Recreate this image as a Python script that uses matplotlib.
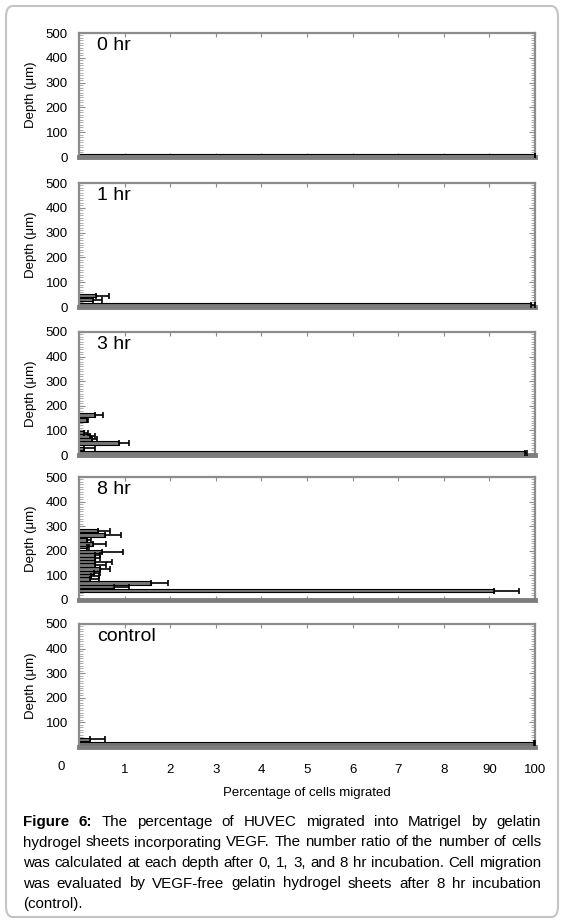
import matplotlib
matplotlib.use("Agg")
import matplotlib.pyplot as plt
import numpy as np
from matplotlib.patches import FancyBboxPatch
from matplotlib.ticker import MultipleLocator

plt.rcParams['font.family'] = ['Liberation Sans', 'DejaVu Sans']

# depth (um), percentage of cells, +error for each panel
panel_names = ["0 hr", "1 hr", "3 hr", "8 hr", "control"]

depth_0h = [5]
pct_0h = [100.0]
err_0h = [0.0]

depth_1h = [10, 30, 45]
pct_1h = [99.2, 0.30, 0.38]
err_1h = [0.7, 0.20, 0.28]

depth_3h = [10, 28, 49, 65, 77, 91, 142, 163]
pct_3h = [97.8, 0.10, 0.87, 0.29, 0.24, 0.10, 0.17, 0.36]
err_3h = [0.5, 0.25, 0.23, 0.11, 0.12, 0.10, 0.03, 0.17]

depth_8h = [37, 54, 69, 85, 98, 111, 126, 142, 156, 171, 183, 196, 217, 228, 244, 264, 282]
pct_8h = [91.0, 0.76, 1.58, 0.24, 0.26, 0.33, 0.47, 0.36, 0.36, 0.36, 0.36, 0.50, 0.18, 0.30, 0.17, 0.58, 0.42]
err_8h = [5.5, 0.34, 0.38, 0.20, 0.18, 0.14, 0.22, 0.24, 0.37, 0.10, 0.10, 0.47, 0.05, 0.30, 0.09, 0.35, 0.25]

depth_ctrl = [15, 32]
pct_ctrl = [99.7, 0.24]
err_ctrl = [0.3, 0.33]

x_ticks = [0, 1, 2, 3, 4, 5, 6, 7, 8, 90, 100]
x_tick_labels = ["", "1", "2", "3", "4", "5", "6", "7", "8", "90", "100"]

panels = [
    (depth_0h, pct_0h, err_0h),
    (depth_1h, pct_1h, err_1h),
    (depth_3h, pct_3h, err_3h),
    (depth_8h, pct_8h, err_8h),
    (depth_ctrl, pct_ctrl, err_ctrl),
]

caption_lines = [
    "Figure 6: The percentage of HUVEC migrated into Matrigel by gelatin",
    "hydrogel sheets incorporating VEGF. The number ratio of the number of cells",
    "was calculated at each depth after 0, 1, 3, and 8 hr incubation. Cell migration",
    "was evaluated by VEGF-free gelatin hydrogel sheets after 8 hr incubation",
    "(control).",
]


# broken x axis: 0-8 linear, then 8-90 and 90-100 each squeezed into one unit
def fwd(v):
    return np.interp(v, [0, 8, 90, 100], [0, 8, 9, 10])


def inv(u):
    return np.interp(u, [0, 8, 9, 10], [0, 8, 90, 100])


W, H = 564, 923
fig = plt.figure(figsize=(W / 100, H / 100), dpi=100)

# rounded frame around everything
frame = FancyBboxPatch((6 / W, 6 / H), 552 / W, 911 / H,
                       boxstyle="round,pad=0,rounding_size=0.012",
                       transform=fig.transFigure, fc="none", ec="#c4c4c4", lw=1.5,
                       zorder=-1)
fig.patches.append(frame)

# pixel extents of each panel (top, bottom)
panel_px = [(33, 157), (183, 307), (332, 455), (477, 600), (624, 747)]
left_px, right_px = 79, 535

frame_col = "#8c8c8c"
for i, ((top, bot), (dep, pct, err)) in enumerate(zip(panel_px, panels)):
    ax = fig.add_axes([left_px / W, 1 - bot / H, (right_px - left_px) / W, (bot - top) / H])
    ax.set_xscale('function', functions=(fwd, inv))
    ax.set_xlim(0, 100)
    ax.set_ylim(0, 500)

    ax.barh(dep, pct, height=13, color="#777777", edgecolor="black", linewidth=0.8, zorder=2)
    ax.errorbar(pct, dep, xerr=[np.zeros(len(err)), err], fmt="none",
                ecolor="black", elinewidth=1.2, capsize=2.5, capthick=1.2, zorder=3)

    for side in ["left", "top", "right"]:
        ax.spines[side].set_color(frame_col)
        ax.spines[side].set_linewidth(1.6)
    ax.spines["bottom"].set_color("#7d7d7d")
    ax.spines["bottom"].set_linewidth(3.5)

    ax.set_xticks(x_ticks)
    ax.yaxis.set_major_locator(MultipleLocator(100))
    ax.yaxis.set_minor_locator(MultipleLocator(10))
    ax.tick_params(axis="x", which="major", direction="in", length=3, color=frame_col,
                   top=True, bottom=True, labelbottom=(i == 4), labelsize=9.5, pad=12)
    ax.tick_params(axis="x", which="minor", length=0)
    ax.tick_params(axis="y", which="major", direction="in", length=4, color=frame_col,
                   left=True, right=True, labelsize=9.5, pad=8)
    ax.tick_params(axis="y", which="minor", direction="in", length=3, color="#a0a0a0",
                   left=True, right=True)

    if i == 4:
        ax.set_xticklabels(x_tick_labels)
        ax.set_yticks([100, 200, 300, 400, 500])
        ax.text(-0.04, -0.165, "0", transform=ax.transAxes, fontsize=9.5,
                ha="center", va="center")
        ax.set_xlabel("Percentage of cells migrated", fontsize=9.5, labelpad=8)
    else:
        ax.set_yticks([0, 100, 200, 300, 400, 500])

    ax.set_ylabel("Depth (\u03bcm)", fontsize=9.5)
    ax.yaxis.set_label_coords(-0.092, 0.5)
    ax.text(0.04, 0.9, panel_names[i], transform=ax.transAxes, fontsize=14,
            ha="left", va="center")

# justified caption
fig.canvas.draw()
renderer = fig.canvas.get_renderer()
x0_px, x1_px = 23, 541
y_px = 826
for n, line in enumerate(caption_lines):
    words = line.split(" ")
    texts = []
    for k, w in enumerate(words):
        bold = (n == 0 and k < 2)
        t = fig.text(0, 1 - y_px / H, w, fontsize=10.9, va="baseline", ha="left",
                     fontweight="bold" if bold else "normal")
        texts.append(t)
    widths = [t.get_window_extent(renderer).width for t in texts]
    last = (n == len(caption_lines) - 1)
    if last or len(words) == 1:
        gap = 3.0
    else:
        gap = (x1_px - x0_px - sum(widths)) / (len(words) - 1)
    x = x0_px
    for t, w in zip(texts, widths):
        t.set_x(x / W)
        x += w + gap
    y_px += 20.5

fig.savefig("out.png", dpi=100)
